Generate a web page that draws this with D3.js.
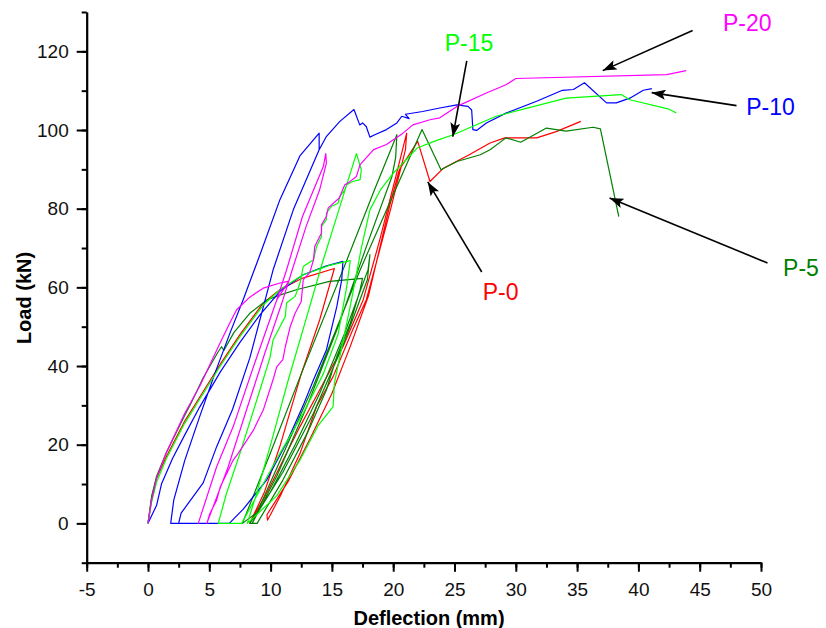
<!DOCTYPE html>
<html>
<head>
<meta charset="utf-8">
<script src="https://cdn.jsdelivr.net/npm/d3@7/dist/d3.min.js"></script>
<style>
  body { margin: 0; background: #fff; }
  text { font-family: Arial, "Liberation Sans", sans-serif; }
</style>
</head>
<body>
<div id="chart"></div>
<script>
// load-deflection curves, [deflection mm, load kN]
const p0 = [
  [0,0],[0.3,6.5],[0.7,11.5],[1.5,17],[3,26],[4.2,32],[5.9,40.5],[7.5,48],[9.4,56],[10.8,59.5],[12.5,62.2],[15.2,64.8],
  [14,51.7],[12.5,38],[10.8,20],[9.5,8],[8.3,0],
  [9.67,7.6],[11.3,17.8],[12.4,24.6],[14,33.9],[15.9,44.9],[17.55,56.8],[18.9,72],[20.2,88],[21.1,99.2],
  [21,95],[19.8,80],[18.6,66],[17.8,56.8],[16.7,49.2],[15.1,37.3],[13.75,29.7],[12.4,17.8],[10.8,7],[9.75,0.8],[9.7,2.2],
  [11.5,11],[13.3,22],[15,33],[16.5,45],[18,58],[19.7,80.6],[20.5,89.9],[22,97.1],
  [23,86.9],[24.1,90.3],[26.2,93.7],[27.9,96.7],[29.1,98],[31.7,98],[33.3,99.6],[35.3,102.2]
];
const p5 = [
  [0,0],[0.3,7],[0.7,12],[1.5,18],[3,27.5],[3.5,30.5],[4.5,37],[5.7,43.5],[6,44.9],[6.2,44],[7,48.5],[8.3,53.4],[9.7,56.8],
  [10.8,58.1],[12.1,59.4],[14.8,61.5],[17.5,62.3],
  [17.3,59.4],[16.5,50.9],[15.4,42.4],[14.55,33.9],[13,23],[11,11],[8.9,0],
  [8.3,0],
  [10,8],[12,20],[14,33],[16,48],[17.95,64.5],[18.1,68.3],
  [17.9,62],[16,46],[13.5,28],[11,13],[9,3],[7.7,0],
  [10,18],[12.5,38],[15.9,64.4],[18.5,85],[20.3,98.8],
  [20.2,93],[19.9,88.2],
  [18,72],[15.5,50],[13,30],[10.5,12],[8.5,0],
  [10.5,14],[13.5,35],[17.3,64.4],[19.5,80],[22.35,100.1],
  [23.9,89.9],[25.2,92],[27.1,93.7],[27.9,95],[29.2,98],[30.4,96.9],[32.5,100.5],[34.1,99.7],[36.3,100.7],[36.9,100.3],[38.4,78]
];
const p10 = [
  [0,0],[0.7,4.6],[1.1,10],[2,16.5],[3,22.5],[4.2,29.5],[5.9,38.5],[7.5,46],[9.13,53],[10.76,59],[12.66,63.2],[14.5,65.4],[15.9,66.6],
  [15.8,61.9],[15.4,55.1],[14.55,44.1],[13.5,36.5],[12.66,30],[11.3,20.5],[9.67,11],[7.77,3.6],[6.63,0],
  [1.85,0],
  [2.1,5.9],[3,16],[4.2,27],[5.5,38.5],[6.7,48.5],[7.77,56.9],[9.13,68.3],[10.76,82.3],[12.39,93.4],[13.96,99.2],
  [13.96,95],[11.85,79.7],[10.2,64.4],[8.3,42],[6.9,29],[5.6,19.5],[4.5,10.3],[2.7,2.6],[2.5,0],
  [2.7,2.6],[4.5,10.3],[5.6,19.5],[6.9,29],[8.3,42],[10.2,64.4],[11.85,79.7],[13.96,95],[14.56,98.4],[15.65,102.2],[16.8,105.2],
  [17.27,101.3],[17.5,101.8],[17.8,100.9],[18.1,98.2],[18.5,98.8],[19.45,100.1],[20.3,101.8],[20.7,103.5],[21.3,102.9],[21,104],
  [22.4,104.7],[23.8,105.6],[25.2,106.4],[26.1,106],[26.4,105.1],[26.5,100.1],[26.8,99.9],[27.6,101.8],[29.2,104.3],[31.7,107.3],
  [33.8,110.1],[34.7,110.3],[35.6,112],[37.4,106.9],[38.2,106.9],[39.3,108.1],[40.4,110.1],[41.1,110.5]
];
const p15 = [
  [0,0],[0.3,5.5],[0.7,10.5],[1.5,16.5],[3,25.5],[4.2,31.5],[5.9,40],[7.5,47.5],[9.4,55.5],[10.8,59.5],[12.66,63.2],[14.8,65.6],[16.5,66.8],
  [16.2,60],[15.5,48],[14.3,38],[12.66,28],[10.76,17.8],[9.13,8.5],[7.64,0],
  [5.73,0],
  [6.4,7.6],[7.5,17.8],[9.13,33.9],[9.94,42],[10.2,46.6],[11.2,52.6],[11.3,56],[12,57.7],[12.4,61.1],[12.66,65.3],[13.5,67],
  [13.75,70.4],[14.15,72.9],[14.15,75.5],[14.55,77.2],[14.55,78.9],[14.97,80.6],[15.5,81.4],[15.65,83.1],[16.05,84.8],[16.2,86.1],
  [16.7,86.9],[17.3,87.4],[17.4,89.9],[17,94],
  [15.6,80],[14.2,66],[12.9,52],[11.4,36],[10,20],[8.9,8],[8.1,0],
  [10.5,7],[12.4,16.1],[13.9,25],[15.1,29.7],[15.2,35.6],[16.6,56.8],[17.4,70],[18.1,79.7],[19,85],[20,89],[22,95.5],[23.5,97.3],[24.9,98.8],
  [28.4,103.5],[34.1,108.1],[38.6,109],[39.3,107.7],[42.5,105.3],[43.1,104.3]
];
const p20 = [
  [0,0],[0.3,6],[0.7,11.5],[1.5,18],[3,28],[4.24,35],[5.6,44],[5.87,45.8],[6.68,51],[7.23,54.3],[8.3,57.5],[9.4,59.8],[10.76,61.1],[11.5,61.6],
  [10.5,56.8],[8.6,39.8],[6.95,24.6],[5.6,14.4],[4.1,0],
  [5.6,14.4],[6.95,24.6],[8.6,39.8],[10.5,56.8],[11.3,64.4],[12.6,78],[14.3,90.7],[14.5,94],
  [14.55,91.6],[14,84.8],[12.9,75.5],[11.85,65.3],[11,56.8],[9.5,43],[8,28.5],[6.5,14],[4.8,0],
  [5.05,2.5],[5.6,5.9],[5.9,9.3],[6.95,16.1],[7.36,17.8],[8.6,23.7],[9.4,28.8],[10.2,36.5],[10.5,39.8],[11,41.6],[11.2,44.9],
  [11.6,50],[12,53.4],[12.5,56.4],[12.66,61.9],[13.2,63.8],[13.5,67],[13.6,70.4],[14.15,73.8],[14.15,75.9],[14.55,78],[14.7,80.2],
  [15.6,82.7],[16.05,86.1],[16.3,86.5],[17,88.2],[17.3,91.2],[18.4,95],[19.45,96.3],[20.8,99.2],[21.6,101.3],[23,102.6],[23.8,103.1],
  [25.2,106],[27.6,109.4],[29.2,111.5],[30,113.1],[42.3,114.1],[43.9,115.1]
];

const seriesNames = ['P-0', 'P-5', 'P-10', 'P-15', 'P-20'];
const seriesData = [p0, p5, p10, p15, p20];
const seriesColors = ['#ff0000', '#008000', '#0000ff', '#00ff00', '#ff00ff'];

const xTicks = [-5, 0, 5, 10, 15, 20, 25, 30, 35, 40, 45, 50];
const yTicks = [0, 20, 40, 60, 80, 100, 120];

// label text anchor (left, baseline) and arrow from -> to, in data units
const labelPos = [[27.3, 56.8], [51.8, 62.8], [48.8, 103.9], [24.2, 120.0], [46.9, 125.1]];
const arrowFrom = [[27.22, 63.9], [50.53, 66.2], [48.0, 106.2], [26.0, 117.6], [44.42, 125.3]];
const arrowTo = [[22.82, 86.8], [37.65, 82.7], [41.08, 109.5], [24.86, 98.3], [37.09, 115.1]];

const W = 826, H = 628;
const plot = {left: 86.7, right: 761, top: 12, bottom: 562.7};

const svg = d3.select('#chart').append('svg')
  .attr('width', W)
  .attr('height', H);

const x = d3.scaleLinear().domain([-5, 50]).range([plot.left, plot.right]);
const y = d3.scaleLinear().domain([-10, 130]).range([plot.bottom, plot.top]);

svg.append('defs').append('marker')
  .attr('id', 'head')
  .attr('markerUnits', 'userSpaceOnUse')
  .attr('viewBox', '0 0 14 10')
  .attr('refX', 14).attr('refY', 5)
  .attr('markerWidth', 14).attr('markerHeight', 10)
  .attr('orient', 'auto')
  .append('path')
    .attr('d', 'M0,0 L14,5 L0,10 L3,5 Z')
    .attr('fill', '#000');

// minor ticks first, then major ticks with labels
const xMinor = d3.range(-5, 50.1, 2.5);
const yMinor = d3.range(-10, 130.1, 10);

svg.append('g')
  .attr('transform', `translate(0,${plot.bottom})`)
  .call(d3.axisBottom(x).tickValues(xMinor).tickSize(5).tickSizeOuter(0).tickFormat(''))
  .call(g => g.selectAll('line').attr('stroke-width', 2));

svg.append('g')
  .attr('transform', `translate(${plot.left},0)`)
  .call(d3.axisLeft(y).tickValues(yMinor).tickSize(5).tickSizeOuter(0).tickFormat(''))
  .call(g => g.selectAll('line').attr('stroke-width', 2));

// plain hyphen for negatives, as in the original
const plain = d => String(d);

const xAxis = svg.append('g')
  .attr('transform', `translate(0,${plot.bottom})`)
  .call(d3.axisBottom(x).tickValues(xTicks).tickSize(9).tickSizeOuter(0).tickPadding(11).tickFormat(plain));

const yAxis = svg.append('g')
  .attr('transform', `translate(${plot.left},0)`)
  .call(d3.axisLeft(y).tickValues(yTicks).tickSize(10).tickSizeOuter(0).tickPadding(8).tickFormat(plain));

[xAxis, yAxis].forEach(g => {
  g.select('.domain').attr('stroke-width', 2.2);
  g.selectAll('line').attr('stroke-width', 2);
  g.selectAll('text')
    .attr('font-size', 19)
    .attr('font-family', 'Arial, "Liberation Sans", sans-serif')
    .attr('fill', '#111');
});

const line = d3.line()
  .x(d => x(d[0]))
  .y(d => y(d[1]));

svg.append('g')
  .selectAll('path')
  .data(seriesData)
  .enter().append('path')
    .attr('d', line)
    .attr('fill', 'none')
    .attr('stroke', (d, i) => seriesColors[i])
    .attr('stroke-width', 1.2)
    .attr('stroke-linejoin', 'round');

// arrows and labels
svg.append('g')
  .selectAll('line')
  .data(arrowFrom)
  .enter().append('line')
    .attr('x1', d => x(d[0]))
    .attr('y1', d => y(d[1]))
    .attr('x2', (d, i) => x(arrowTo[i][0]))
    .attr('y2', (d, i) => y(arrowTo[i][1]))
    .attr('stroke', '#000')
    .attr('stroke-width', 1.6)
    .attr('marker-end', 'url(#head)');

svg.append('g')
  .selectAll('text')
  .data(seriesNames)
  .enter().append('text')
    .attr('x', (d, i) => x(labelPos[i][0]))
    .attr('y', (d, i) => y(labelPos[i][1]))
    .attr('font-size', 23)
    .attr('fill', (d, i) => seriesColors[i])
    .text(d => d);

svg.append('text')
  .attr('x', 429)
  .attr('y', 625)
  .attr('text-anchor', 'middle')
  .attr('font-size', 20)
  .attr('font-weight', 'bold')
  .text('Deflection (mm)');

svg.append('text')
  .attr('transform', 'translate(31,298) rotate(-90)')
  .attr('text-anchor', 'middle')
  .attr('font-size', 20)
  .attr('font-weight', 'bold')
  .text('Load (kN)');
</script>
</body>
</html>
